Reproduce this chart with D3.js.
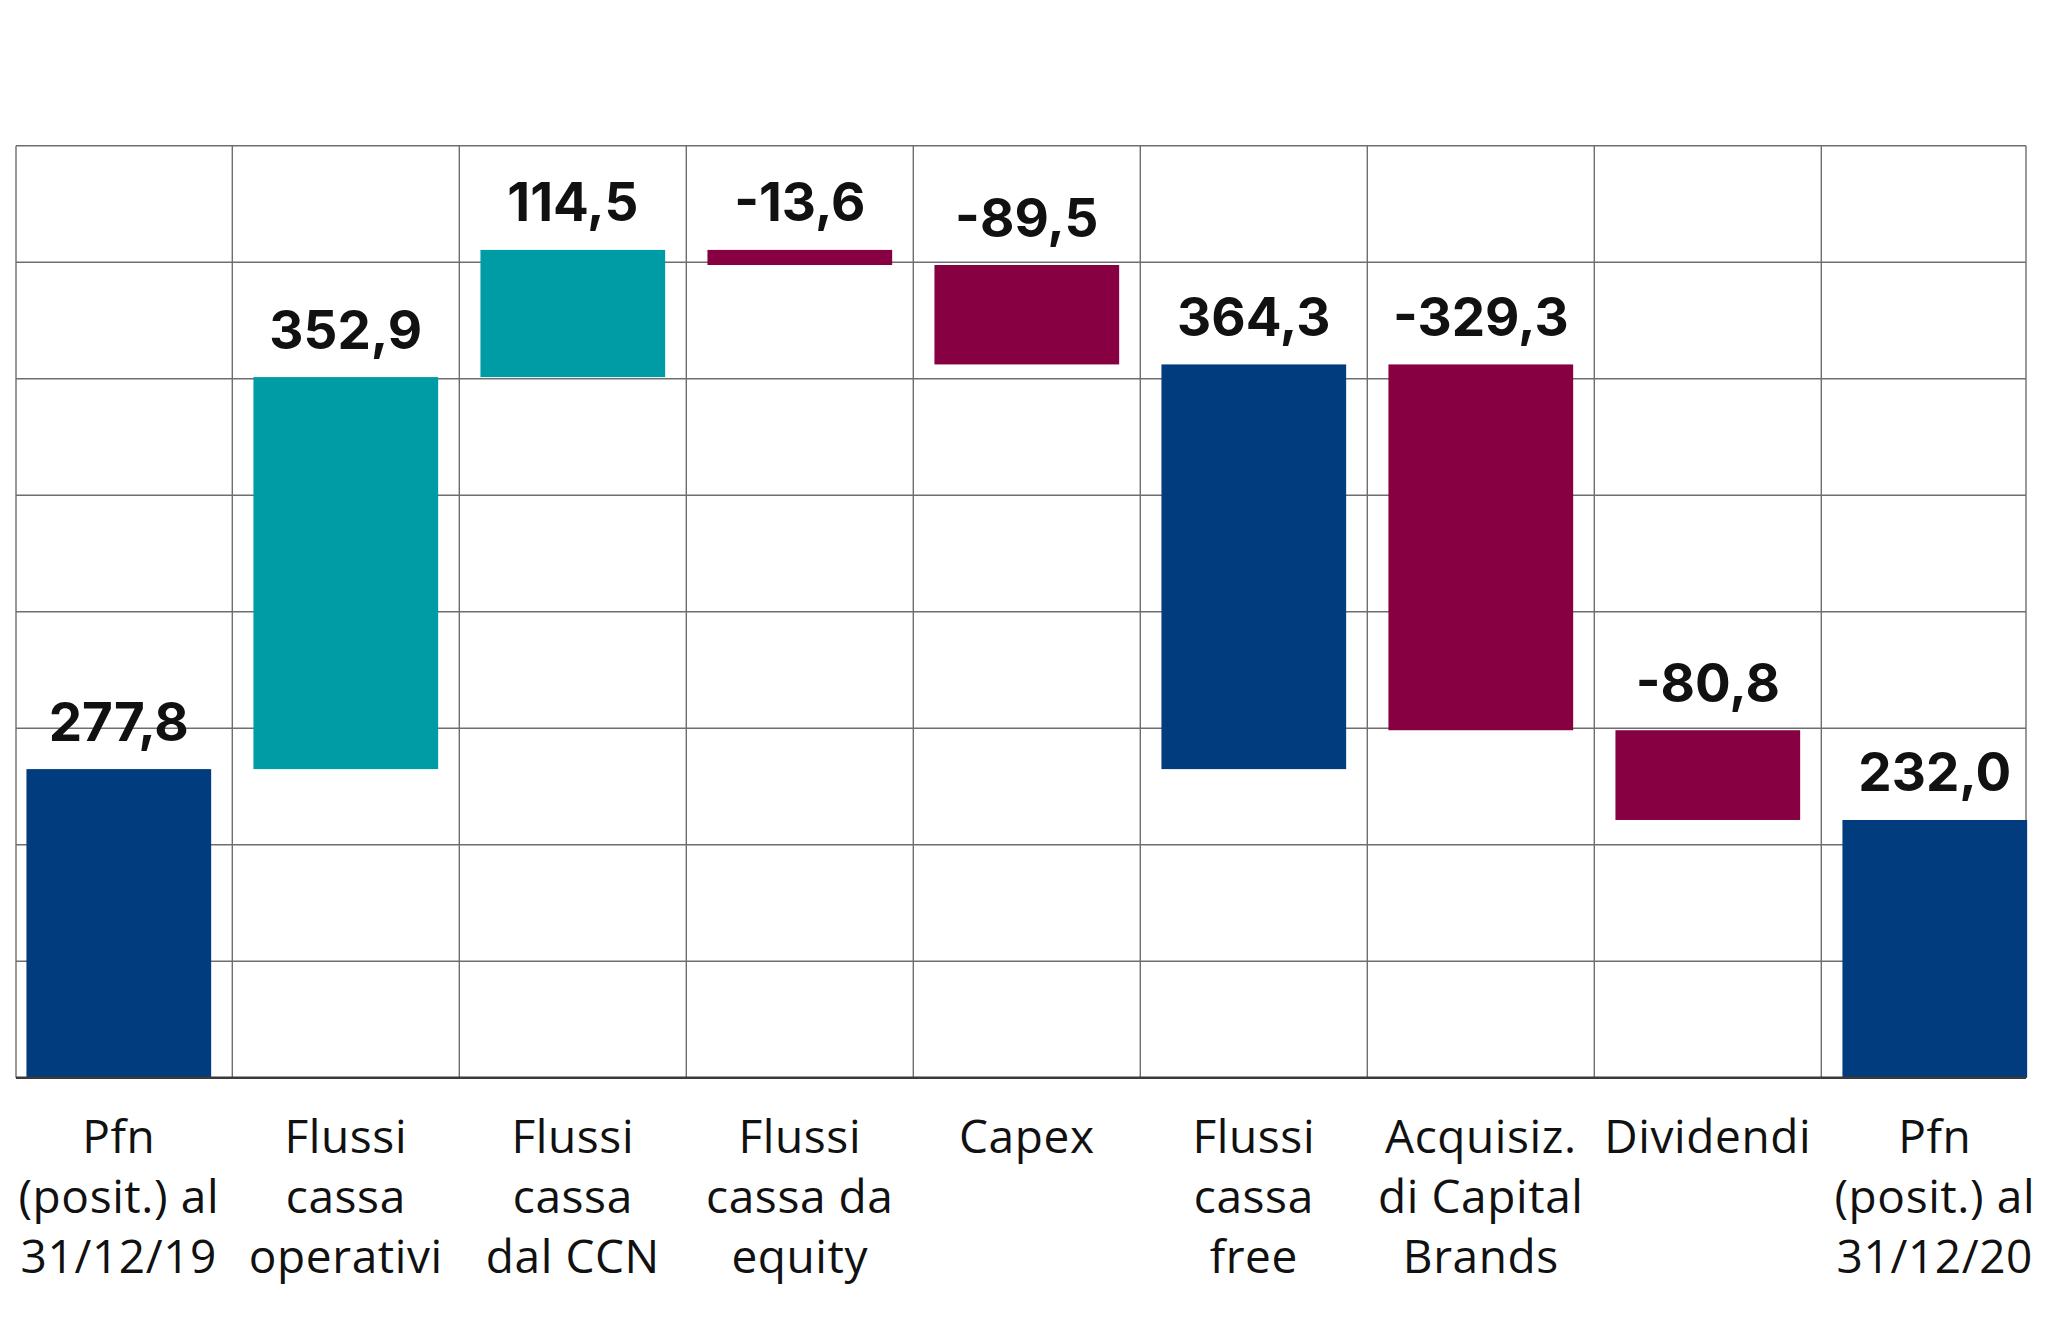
<!DOCTYPE html>
<html>
<head>
<meta charset="utf-8">
<script src="https://cdn.jsdelivr.net/npm/d3@7"></script>
<style>
  html, body { margin: 0; padding: 0; background: #fff; }
  svg { display: block; }
</style>
</head>
<body>
<svg id="chart" width="2048" height="1317"></svg>
<script>
// ---------- DATA ----------
const categories = [
  "Pfn (posit.) al 31/12/19",
  "Flussi cassa operativi",
  "Flussi cassa dal CCN",
  "Flussi cassa da equity",
  "Capex",
  "Flussi cassa free",
  "Acquisiz. di Capital Brands",
  "Dividendi",
  "Pfn (posit.) al 31/12/20"
];
const categoryLines = [
  ["Pfn", "(posit.) al", "31/12/19"],
  ["Flussi", "cassa", "operativi"],
  ["Flussi", "cassa", "dal CCN"],
  ["Flussi", "cassa da", "equity"],
  ["Capex"],
  ["Flussi", "cassa", "free"],
  ["Acquisiz.", "di Capital", "Brands"],
  ["Dividendi"],
  ["Pfn", "(posit.) al", "31/12/20"]
];
const values = [277.8, 352.9, 114.5, -13.6, -89.5, 364.3, -329.3, -80.8, 232.0];
const kinds  = ["total", "delta", "delta", "delta", "delta", "subtotal", "delta", "delta", "total"];
const yMax = 839;          // top of the grid frame in data units
const gridDivisions = 8;   // horizontal grid bands

// ---------- LAYOUT ----------
const W = 2048, H = 1317;
const plotTop = 145.7, plotBottom = 1077.7;
const frameLeft = 16, frameRight = 2026;
const bandStart = 5.3, bandStep = 227;

const colors = { total: "#003c7e", up: "#009ca6", down: "#870041" };

const svg = d3.select("#chart");

const x = d3.scaleBand()
  .domain(categories)
  .range([bandStart, bandStart + bandStep * categories.length])
  .paddingInner(0.1863)
  .paddingOuter(0.1863 / 2);

const y = d3.scaleLinear().domain([0, yMax]).range([plotBottom, plotTop]);

// waterfall computation
let running = 0;
const bars = values.map((v, i) => {
  let start, end;
  if (kinds[i] === "total") { start = 0; end = v; running = v; }
  else if (kinds[i] === "subtotal") { start = running - v; end = running; }
  else { start = running; end = running + v; running = end; }
  const color = kinds[i] === "delta" ? (v >= 0 ? colors.up : colors.down) : colors.total;
  return { cat: categories[i], lines: categoryLines[i], v, start, end, color };
});

// ---------- GRID ----------
const grid = svg.append("g").attr("class", "grid");
const hTicks = d3.range(1, gridDivisions + 1).map(k => yMax * k / gridDivisions);
grid.selectAll("line.h").data(hTicks).join("line")
  .attr("class", "h")
  .attr("x1", frameLeft).attr("x2", frameRight)
  .attr("y1", d => y(d)).attr("y2", d => y(d))
  .attr("stroke", "#6e6e6e").attr("stroke-width", 1.4);

const step = x.step();
const vPos = d3.range(1, categories.length).map(i => x(categories[i]) - step * x.paddingInner() / 2);
grid.selectAll("line.v").data(vPos).join("line")
  .attr("class", "v")
  .attr("x1", d => d).attr("x2", d => d)
  .attr("y1", plotTop).attr("y2", plotBottom)
  .attr("stroke", "#6e6e6e").attr("stroke-width", 1.4);

// frame sides
grid.selectAll("line.side").data([frameLeft, frameRight]).join("line")
  .attr("class", "side")
  .attr("x1", d => d).attr("x2", d => d)
  .attr("y1", plotTop).attr("y2", plotBottom)
  .attr("stroke", "#6e6e6e").attr("stroke-width", 1.4);

// ---------- BARS ----------
svg.append("g").selectAll("rect").data(bars).join("rect")
  .attr("x", d => x(d.cat))
  .attr("width", x.bandwidth())
  .attr("y", d => y(Math.max(d.start, d.end)))
  .attr("height", d => Math.abs(y(d.start) - y(d.end)))
  .attr("fill", d => d.color);

// baseline
svg.append("line")
  .attr("x1", frameLeft).attr("x2", frameRight)
  .attr("y1", y(0)).attr("y2", y(0))
  .attr("stroke", "#3a3a3a").attr("stroke-width", 2.4);

// ---------- VALUE LABELS ----------
const itLocale = d3.formatLocale({ decimal: ",", thousands: ".", grouping: [3], currency: ["", " €"], minus: "-" });
const fmt = itLocale.format(".1f");

svg.append("g").selectAll("text").data(bars).join("text")
  .attr("x", d => x(d.cat) + x.bandwidth() / 2)
  .attr("y", d => y(Math.max(d.start, d.end)) - 28.5)
  .attr("text-anchor", "middle")
  .attr("font-family", "Inter, 'Open Sans', sans-serif")
  .attr("font-weight", 700)
  .attr("font-size", 53)
  .attr("fill", "#111")
  .text(d => fmt(d.v));

// ---------- CATEGORY LABELS ----------
const lineBase = 1152.7, lineGap = 60.3;
const catG = svg.append("g").selectAll("text").data(bars).join("text")
  .attr("text-anchor", "middle")
  .attr("font-family", "'Open Sans', sans-serif")
  .attr("font-size", 46)
  .attr("letter-spacing", 0.6)
  .attr("fill", "#111");
catG.selectAll("tspan").data(d => d.lines.map(l => ({ l, cx: x(d.cat) + x.bandwidth() / 2 })))
  .join("tspan")
  .attr("x", d => d.cx)
  .attr("y", (d, i) => lineBase + i * lineGap)
  .text(d => d.l);
</script>
</body>
</html>
